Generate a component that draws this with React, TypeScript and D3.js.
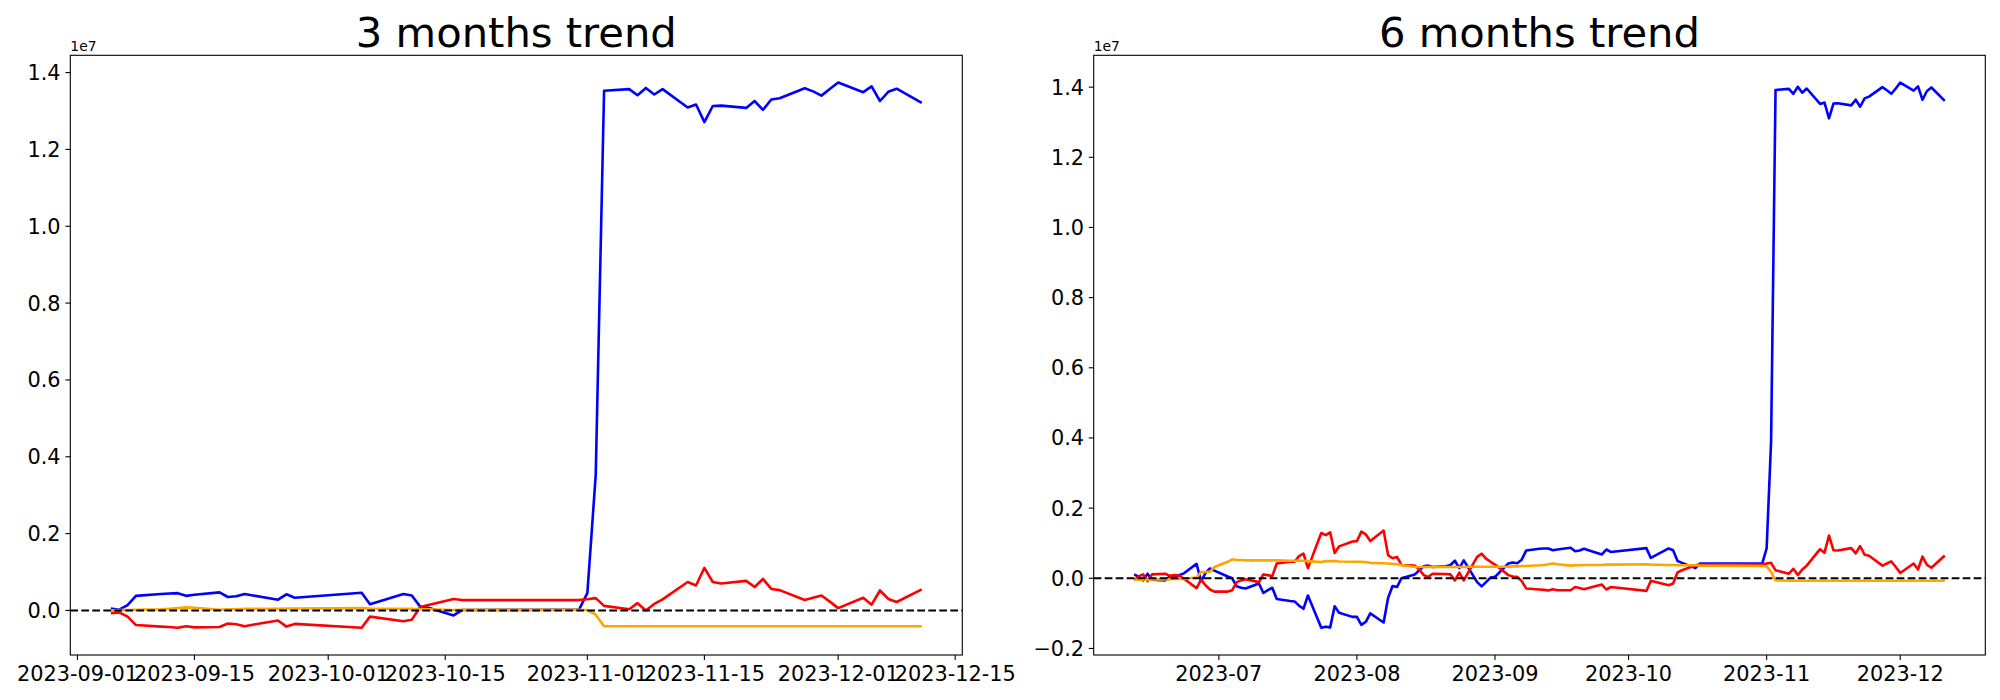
import React from "react";
import * as d3 from "d3";

// ---------- DATA (values in units of 1e7) ----------
const dates3 = [
  "2023-09-05","2023-09-06","2023-09-07","2023-09-08","2023-09-11","2023-09-12","2023-09-13","2023-09-14","2023-09-15",
  "2023-09-18","2023-09-19","2023-09-20","2023-09-21","2023-09-22","2023-09-25","2023-09-26","2023-09-27",
  "2023-10-05","2023-10-06","2023-10-10","2023-10-11","2023-10-12","2023-10-13","2023-10-16","2023-10-17","2023-10-31",
  "2023-11-01","2023-11-02","2023-11-03","2023-11-06","2023-11-07","2023-11-08","2023-11-09","2023-11-10",
  "2023-11-13","2023-11-14","2023-11-15","2023-11-16","2023-11-17","2023-11-20","2023-11-21","2023-11-22","2023-11-23","2023-11-24",
  "2023-11-27","2023-11-28","2023-11-29","2023-11-30","2023-12-01","2023-12-04","2023-12-05","2023-12-06","2023-12-07","2023-12-08","2023-12-11",
];
const blue3 = [
  0.005,0.002,0.014,0.038,0.043,0.044,0.045,0.038,0.041,
  0.047,0.035,0.037,0.043,0.039,0.028,0.042,0.033,
  0.046,0.016,0.043,0.039,0.010,0.007,-0.013,0.001,0.002,
  0.045,0.352,1.3525,1.357,1.341,1.360,1.343,1.357,
  1.309,1.317,1.271,1.313,1.314,1.308,1.326,1.303,1.330,1.333,
  1.359,1.351,1.340,1.357,1.374,1.349,1.364,1.326,1.350,1.358,1.321,
];
const red3 = [
  -0.007,-0.005,-0.016,-0.038,-0.042,-0.043,-0.045,-0.041,-0.044,
  -0.043,-0.034,-0.036,-0.041,-0.037,-0.026,-0.042,-0.035,
  -0.045,-0.016,-0.028,-0.024,0.009,0.014,0.030,0.027,0.027,
  0.029,0.032,0.012,0.003,0.019,0.000,0.017,0.029,
  0.074,0.065,0.111,0.074,0.070,0.077,0.061,0.082,0.056,0.053,
  0.027,0.033,0.039,0.023,0.006,0.033,0.015,0.052,0.030,0.022,0.055,
];
const orange3 = [
  0.000,0.001,0.001,0.002,0.003,0.004,0.006,0.008,0.007,
  0.002,0.003,0.003,0.004,0.004,0.004,0.005,0.005,
  0.006,0.005,0.004,0.004,0.003,0.003,0.001,0.002,0.002,
  0.001,-0.011,-0.041,-0.041,-0.041,-0.041,-0.041,-0.041,
  -0.041,-0.041,-0.041,-0.041,-0.041,-0.041,-0.041,-0.041,-0.041,-0.041,
  -0.041,-0.041,-0.041,-0.041,-0.041,-0.041,-0.041,-0.041,-0.041,-0.041,-0.041,
];

const dates6 = [
  "2023-06-12","2023-06-13","2023-06-14","2023-06-15","2023-06-16","2023-06-19","2023-06-20","2023-06-21","2023-06-22","2023-06-23",
  "2023-06-26","2023-06-27","2023-06-28","2023-06-29","2023-06-30","2023-07-03","2023-07-04","2023-07-05","2023-07-06","2023-07-07",
  "2023-07-10","2023-07-11","2023-07-12","2023-07-13","2023-07-14","2023-07-17","2023-07-18","2023-07-19","2023-07-20","2023-07-21",
  "2023-07-24","2023-07-25","2023-07-26","2023-07-27","2023-07-28","2023-07-31","2023-08-01","2023-08-02","2023-08-03","2023-08-04",
  "2023-08-07","2023-08-08","2023-08-09","2023-08-10","2023-08-11","2023-08-14","2023-08-15","2023-08-16","2023-08-17","2023-08-18",
  "2023-08-21","2023-08-22","2023-08-23","2023-08-24","2023-08-25","2023-08-28","2023-08-29","2023-08-30","2023-08-31","2023-09-01",
  "2023-09-04","2023-09-05","2023-09-06","2023-09-07","2023-09-08","2023-09-11","2023-09-12","2023-09-13","2023-09-14","2023-09-15",
  "2023-09-18","2023-09-19","2023-09-20","2023-09-21","2023-09-22","2023-09-25","2023-09-26","2023-09-27",
  "2023-10-05","2023-10-06","2023-10-10","2023-10-11","2023-10-12","2023-10-13","2023-10-16","2023-10-17","2023-10-31",
  "2023-11-01","2023-11-02","2023-11-03","2023-11-06","2023-11-07","2023-11-08","2023-11-09","2023-11-10",
  "2023-11-13","2023-11-14","2023-11-15","2023-11-16","2023-11-17","2023-11-20","2023-11-21","2023-11-22","2023-11-23","2023-11-24",
  "2023-11-27","2023-11-28","2023-11-29","2023-11-30","2023-12-01","2023-12-04","2023-12-05","2023-12-06","2023-12-07","2023-12-08","2023-12-11",
];
const blue6 = [
  0.011,0.004,-0.006,0.013,-0.004,-0.006,0.006,0.004,0.009,0.013,
  0.041,-0.008,0.015,0.028,0.022,0.005,0.000,-0.023,-0.027,-0.029,
  -0.015,-0.042,-0.034,-0.027,-0.059,-0.065,-0.066,-0.078,-0.087,-0.049,
  -0.141,-0.138,-0.140,-0.080,-0.098,-0.110,-0.110,-0.133,-0.124,-0.100,
  -0.126,-0.056,-0.022,-0.025,0.000,0.011,0.023,0.034,0.036,0.032,
  0.034,0.038,0.050,0.029,0.051,-0.011,-0.023,-0.011,0.002,0.004,
  0.042,0.045,0.043,0.053,0.079,0.084,0.085,0.085,0.080,0.082,
  0.087,0.077,0.079,0.084,0.080,0.068,0.082,0.075,
  0.086,0.058,0.085,0.080,0.049,0.044,0.029,0.042,0.042,
  0.085,0.390,1.392,1.395,1.381,1.401,1.384,1.396,
  1.352,1.356,1.311,1.353,1.354,1.348,1.364,1.344,1.368,1.373,
  1.400,1.391,1.381,1.396,1.413,1.390,1.402,1.364,1.389,1.399,1.361,
];
const red6 = [
  -0.006,0.006,0.011,-0.008,0.011,0.013,0.007,0.009,0.008,0.000,
  -0.028,-0.004,-0.020,-0.032,-0.038,-0.038,-0.034,-0.011,-0.006,-0.003,
  -0.011,0.011,0.009,0.006,0.042,0.047,0.047,0.063,0.070,0.029,
  0.129,0.123,0.131,0.072,0.091,0.105,0.106,0.133,0.125,0.106,
  0.136,0.066,0.057,0.061,0.038,0.036,0.025,0.009,0.004,0.013,
  0.012,0.011,-0.006,0.016,-0.006,0.061,0.070,0.056,0.047,0.039,
  0.009,0.005,0.004,-0.008,-0.029,-0.032,-0.033,-0.035,-0.031,-0.034,
  -0.034,-0.025,-0.028,-0.031,-0.028,-0.018,-0.032,-0.025,
  -0.036,-0.007,-0.020,-0.015,0.017,0.023,0.037,0.039,0.039,
  0.042,0.044,0.023,0.013,0.027,0.009,0.025,0.036,
  0.083,0.073,0.122,0.080,0.079,0.086,0.071,0.092,0.067,0.064,
  0.036,0.042,0.048,0.032,0.015,0.042,0.025,0.062,0.038,0.030,0.065,
];
const orange6 = [
  -0.004,-0.004,-0.004,-0.004,-0.003,-0.003,-0.003,-0.002,-0.002,-0.002,
  0.002,0.018,0.018,0.019,0.032,0.047,0.054,0.052,0.052,0.051,
  0.051,0.051,0.051,0.051,0.051,0.050,0.050,0.050,0.050,0.049,
  0.046,0.049,0.049,0.049,0.048,0.047,0.047,0.047,0.046,0.044,
  0.043,0.042,0.041,0.040,0.038,0.032,0.032,0.032,0.032,0.032,
  0.032,0.032,0.032,0.032,0.032,0.033,0.033,0.033,0.033,0.033,
  0.033,0.034,0.034,0.035,0.035,0.037,0.038,0.040,0.042,0.040,
  0.036,0.037,0.037,0.038,0.038,0.038,0.039,0.039,
  0.040,0.039,0.038,0.038,0.037,0.037,0.037,0.036,0.035,
  0.034,0.018,-0.006,-0.007,-0.007,-0.007,-0.007,-0.007,
  -0.007,-0.007,-0.007,-0.007,-0.007,-0.007,-0.007,-0.007,-0.007,-0.007,
  -0.007,-0.007,-0.007,-0.007,-0.007,-0.007,-0.007,-0.007,-0.007,-0.007,-0.007,
];

const xTicks3 = ["2023-09-01","2023-09-15","2023-10-01","2023-10-15","2023-11-01","2023-11-15","2023-12-01","2023-12-15"];
const xTicks6 = ["2023-07","2023-08","2023-09","2023-10","2023-11","2023-12"];
const yTicks3 = [0.0, 0.2, 0.4, 0.6, 0.8, 1.0, 1.2, 1.4];
const yTicks6 = [-0.2, 0.0, 0.2, 0.4, 0.6, 0.8, 1.0, 1.2, 1.4];
const titles = ["3 months trend", "6 months trend"];
const offsetLabel = "1e7";

// ---------- LAYOUT ----------
const W = 2000, H = 700;
const TOP = 55.3, BOTTOM = 655;
const FONT = "DejaVu Sans, sans-serif";
const TICK_FS = 20.83;

const parseDay = d3.utcParse("%Y-%m-%d");
const parseMonth = d3.utcParse("%Y-%m");

type PanelProps = {
  title: string; left: number; right: number;
  dates: string[]; blue: number[]; red: number[]; orange: number[];
  xTicks: string[]; xTickParse: (s: string) => Date | null; yTicks: number[];
};

function Panel(p: PanelProps) {
  const ds = p.dates.map((d) => parseDay(d) as Date);
  const tx = d3.extent(ds) as [Date, Date];
  const xr = +tx[1] - +tx[0];
  const x = d3.scaleUtc()
    .domain([new Date(+tx[0] - 0.05 * xr), new Date(+tx[1] + 0.05 * xr)])
    .range([p.left, p.right]);
  const all = [...p.blue, ...p.red, ...p.orange];
  const ymin = d3.min(all) as number, ymax = d3.max(all) as number;
  const yr = ymax - ymin;
  const y = d3.scaleLinear().domain([ymin - 0.05 * yr, ymax + 0.05 * yr]).range([BOTTOM, TOP]);
  const line = d3.line<number>().x((_, i) => x(ds[i])).y((v) => y(v));
  const fmt = d3.format(".1f");
  const clipId = "clip-" + Math.round(p.left);
  const series: [number[], string][] = [[p.blue, "blue"], [p.red, "red"], [p.orange, "orange"]];
  return (
    <g>
      <defs>
        <clipPath id={clipId}>
          <rect x={p.left} y={TOP} width={p.right - p.left} height={BOTTOM - TOP} />
        </clipPath>
      </defs>
      <g clipPath={`url(#${clipId})`}>
        {series.map(([vals, c]) => (
          <path key={c} d={line(vals) || ""} fill="none" stroke={c} strokeWidth={2.6} strokeLinejoin="round" />
        ))}
        <line x1={p.left} x2={p.right} y1={y(0)} y2={y(0)} stroke="black" strokeWidth={2.08} strokeDasharray="7.7 3.3" />
      </g>
      <rect x={p.left} y={TOP} width={p.right - p.left} height={BOTTOM - TOP} fill="none" stroke="black" strokeWidth={1.1} />
      {p.yTicks.map((t) => (
        <g key={"y" + t}>
          <line x1={p.left - 4.9} x2={p.left} y1={y(t)} y2={y(t)} stroke="black" strokeWidth={1.1} />
          <text x={p.left - 9.7} y={y(t) + 7.5} textAnchor="end" fontSize={TICK_FS} fontFamily={FONT}>{fmt(t)}</text>
        </g>
      ))}
      {p.xTicks.map((t) => {
        const xv = x(p.xTickParse(t) as Date);
        return (
          <g key={"x" + t}>
            <line x1={xv} x2={xv} y1={BOTTOM} y2={BOTTOM + 4.9} stroke="black" strokeWidth={1.1} />
            <text x={xv} y={681} textAnchor="middle" fontSize={TICK_FS} fontFamily={FONT}>{t}</text>
          </g>
        );
      })}
      <text x={p.left} y={51} fontSize={13.9} fontFamily={FONT}>{offsetLabel}</text>
      <text x={(p.left + p.right) / 2} y={46.7} textAnchor="middle" fontSize={41.67} fontFamily={FONT}>{p.title}</text>
    </g>
  );
}

export default function App() {
  return (
    <svg width={W} height={H} style={{ position: "absolute", left: 0, top: 0, display: "block", background: "white" }}>
      <rect x={0} y={0} width={W} height={H} fill="white" />
      <Panel title={titles[0]} left={70.3} right={962.3} dates={dates3} blue={blue3} red={red3} orange={orange3}
        xTicks={xTicks3} xTickParse={(s) => parseDay(s)} yTicks={yTicks3} />
      <Panel title={titles[1]} left={1093.7} right={1985.3} dates={dates6} blue={blue6} red={red6} orange={orange6}
        xTicks={xTicks6} xTickParse={(s) => parseMonth(s)} yTicks={yTicks6} />
    </svg>
  );
}
